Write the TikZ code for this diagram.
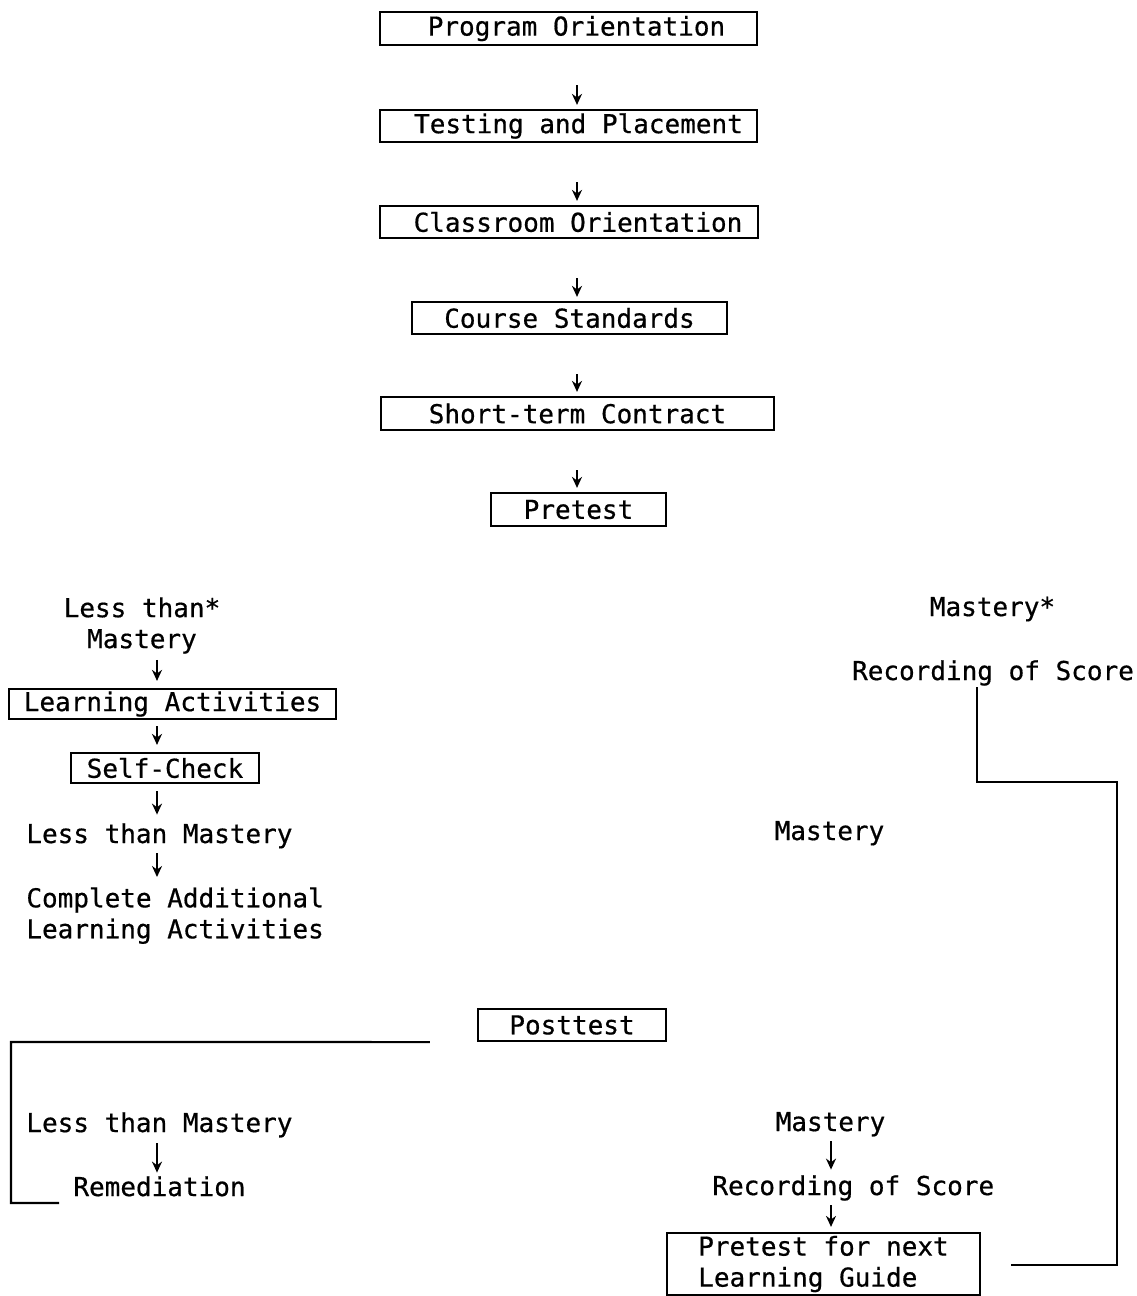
\documentclass[tikz,border=0pt]{standalone}
\usepackage{fontspec}
\setmainfont[FakeBold=0.6]{DejaVu Sans Mono}
\usetikzlibrary{arrows.meta}
\begin{document}
\begin{tikzpicture}[x=0.5pt,y=-0.5pt,
  every node/.style={font=\fontsize{13pt}{15.5pt}\selectfont},
  box/.style={draw, line width=1.1pt, inner sep=0pt},
  txt/.style={inner sep=1pt, text height=0.75em, text depth=0.25em},
  multi/.style={inner sep=1pt},
  arr/.style={line width=0.9pt, -{Stealth[length=5.5pt,width=5pt]}},
  conn/.style={line width=1.1pt}]
\useasboundingbox (0,0) rectangle (1136,1296);
% column x for arrows
\coordinate (ax) at (577,0);
\coordinate (lx) at (157,0);
\coordinate (rx) at (831,0);
% top chain
\node[box, minimum width=188.5pt, minimum height=16.5pt] (po) at (568.5,28.5) {\hspace*{8pt}Program Orientation};
\node[box, minimum width=188.5pt, minimum height=16pt] (tp) at (568.5,126) {\hspace*{10pt}Testing and Placement};
\node[box, minimum width=189pt, minimum height=16pt] (co) at (569,222) {\hspace*{9pt}Classroom Orientation};
\node[box, minimum width=157.5pt, minimum height=16pt] (cs) at (569.5,318) {Course Standards};
\node[box, minimum width=196.5pt, minimum height=16.5pt] (stc) at (577.5,413.5) {Short-term Contract};
\node[box, minimum width=87.5pt, minimum height=16.5pt] (pre) at (578.5,509.5) {Pretest};
\draw[arr, shorten <=19.5pt, shorten >=2pt] (po.south -| ax) -- (tp.north -| ax);
\draw[arr, shorten <=19.5pt, shorten >=2pt] (tp.south -| ax) -- (co.north -| ax);
\draw[arr, shorten <=19.5pt, shorten >=2pt] (co.south -| ax) -- (cs.north -| ax);
\draw[arr, shorten <=19.5pt, shorten >=2pt] (cs.south -| ax) -- (stc.north -| ax);
\draw[arr, shorten <=19.5pt, shorten >=2pt] (stc.south -| ax) -- (pre.north -| ax);
% left branch
\node[multi, align=center, anchor=north] (lt1) at (142,595) {Less than*\\Mastery};
\node[box, minimum width=163.5pt, minimum height=15pt] (la) at (172.5,704) {Learning Activities};
\node[box, minimum width=94pt, minimum height=15pt] (sc) at (165,768) {Self-Check};
\node[txt, anchor=base west] (ltm1) at (24,843) {Less than Mastery};
\node[multi, align=left, anchor=north west] (cal) at (24,885) {Complete Additional\\Learning Activities};
\draw[arr, shorten <=2pt, shorten >=3.5pt] (lt1.south -| lx) -- (la.north -| lx);
\draw[arr, shorten <=3pt, shorten >=3.5pt] (la.south -| lx) -- (sc.north -| lx);
\draw[arr, shorten <=3.5pt, shorten >=5.5pt] (sc.south -| lx) -- (ltm1.north -| lx);
\draw[arr, shorten <=1.5pt, shorten >=4pt] (ltm1.south -| lx) -- (cal.north -| lx);
% right branch
\node[txt, anchor=base] (m1) at (992.5,616) {Mastery*};
\node[txt, anchor=base] (rec1) at (993,680) {Recording of Score};
\node[txt, anchor=base] (m2) at (829.5,840) {Mastery};
% posttest
\node[box, minimum width=94pt, minimum height=16pt] (post) at (572,1025) {Posttest};
\node[txt, anchor=base west] (ltm2) at (24,1132) {Less than Mastery};
\node[txt, anchor=base west] (rem) at (71,1196) {Remediation};
\draw[arr, shorten <=2pt, shorten >=3pt] (ltm2.south -| lx) -- (rem.north -| lx);
\node[txt, anchor=base] (m3) at (830.5,1131) {Mastery};
\node[txt, anchor=base west] (rec2) at (710,1195) {Recording of Score};
\node[box, minimum width=156.5pt, minimum height=31pt, align=left] (ptn) at (823.5,1264) {Pretest for next\\Learning Guide};
\draw[arr, shorten <=1.5pt, shorten >=4pt] (m3.south -| rx) -- (rec2.north -| rx);
\draw[arr, shorten <=1.5pt, shorten >=2.5pt] (rec2.south -| rx) -- (ptn.north -| rx);
% connector lines
\coordinate (c1) at (977,782);
\coordinate (c2) at (1117,782);
\coordinate (c3) at (1117,1265);
\draw[conn] (rec1.south -| c1) -- (c1) -- (c2) -- (c3) -- ([xshift=15pt]ptn.east |- c3);
\coordinate (lc1) at (11,1042);
\coordinate (lc2) at (11,1203);
\coordinate (lc3) at (59,1203);
\draw[conn] ([xshift=-23.5pt]post.south west) -- (lc1) -- (lc2) -- (lc3);
\end{tikzpicture}
\end{document}
